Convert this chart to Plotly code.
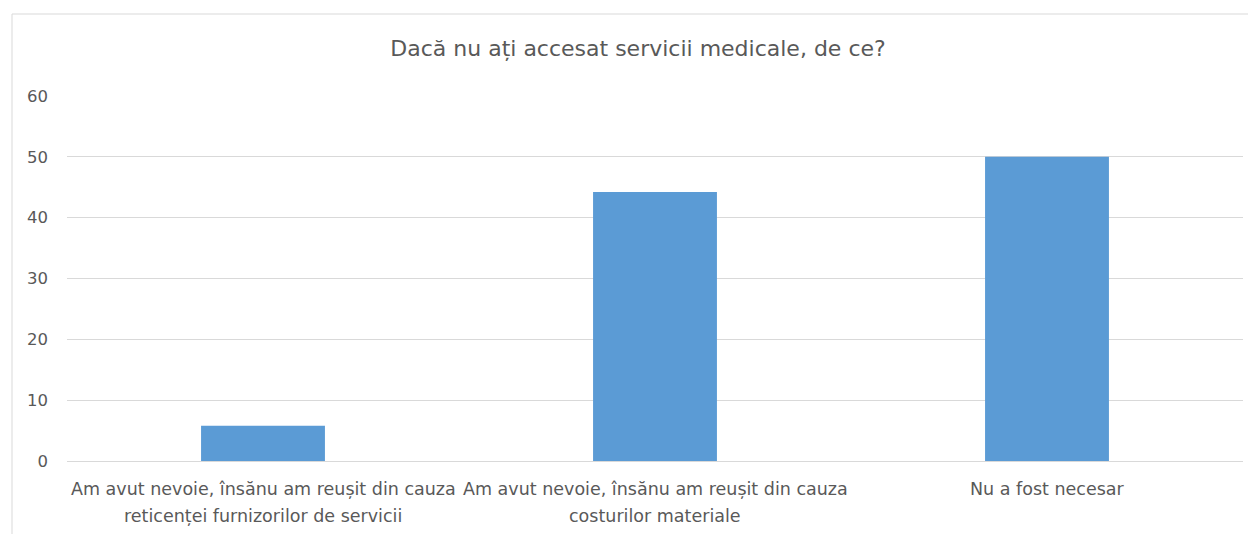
import plotly.graph_objects as go

categories = [
    "Am avut nevoie, însănu am reușit din cauza<br>reticenței furnizorilor de servicii",
    "Am avut nevoie, însănu am reușit din cauza<br>costurilor materiale",
    "Nu a fost necesar",
]
values = [5.8, 44.2, 50.0]
y_ticks = [0, 10, 20, 30, 40, 50, 60]
title_text = "Dacă nu ați accesat servicii medicale, de ce?"

TEXT = "#595959"
GRID = "#d9d9d9"
FONT = "DejaVu Sans"

# screen geometry of the plot area (page has ~8px body offset)
PX0, PX1, PY0, PY1 = 67, 1243, 95, 460
OFF_X, OFF_Y = 8, 7
W, H = 1256, 534
PW, PH = PX1 - PX0, PY1 - PY0

fig = go.Figure(
    go.Bar(x=categories, y=values, marker=dict(color="#5b9bd5", line=dict(width=0)),
           width=0.316, hoverinfo="y")
)

annotations = []
line_gap = 27
for cat in categories:
    for i, line in enumerate(cat.split("<br>")):
        yc = 488 + i * line_gap
        annotations.append(dict(
            x=cat, xref="x", y=-(yc - PY1) / PH, yref="paper",
            text=line, showarrow=False, xanchor="center", yanchor="middle",
            font=dict(family=FONT, size=17.5, color=TEXT)))

fig.update_layout(
    width=W, height=H,
    margin=dict(l=PX0 - OFF_X, r=W - (PX1 - OFF_X), t=PY0 - OFF_Y, b=H - (PY1 - OFF_Y)),
    paper_bgcolor="white", plot_bgcolor="white",
    font=dict(family=FONT, color=TEXT, size=16),
    title=dict(text=title_text, x=(638 - OFF_X) / W, xanchor="center",
               y=1 - (47 - OFF_Y) / H, yanchor="middle",
               font=dict(family=FONT, size=22, color=TEXT)),
    showlegend=False,
    annotations=annotations,
    shapes=[dict(type="rect", xref="paper", yref="paper",
                 x0=(12 - PX0) / PW, x1=(1275 - PX0) / PW,
                 y0=(PY1 - 560) / PH, y1=(PY1 - 13) / PH,
                 line=dict(color=GRID, width=1), fillcolor="rgba(0,0,0,0)", layer="below")],
)
fig.update_xaxes(showgrid=False, showline=False, ticks="", showticklabels=False,
                 zeroline=False)
fig.update_yaxes(range=[0, 60], tickvals=y_ticks, showgrid=True, gridcolor=GRID, gridwidth=1,
                 zeroline=True, zerolinecolor=GRID, zerolinewidth=1, showline=False,
                 ticks="", ticklabelstandoff=18, tickfont=dict(family=FONT, size=16.5, color=TEXT))

fig.write_html("out.html")
